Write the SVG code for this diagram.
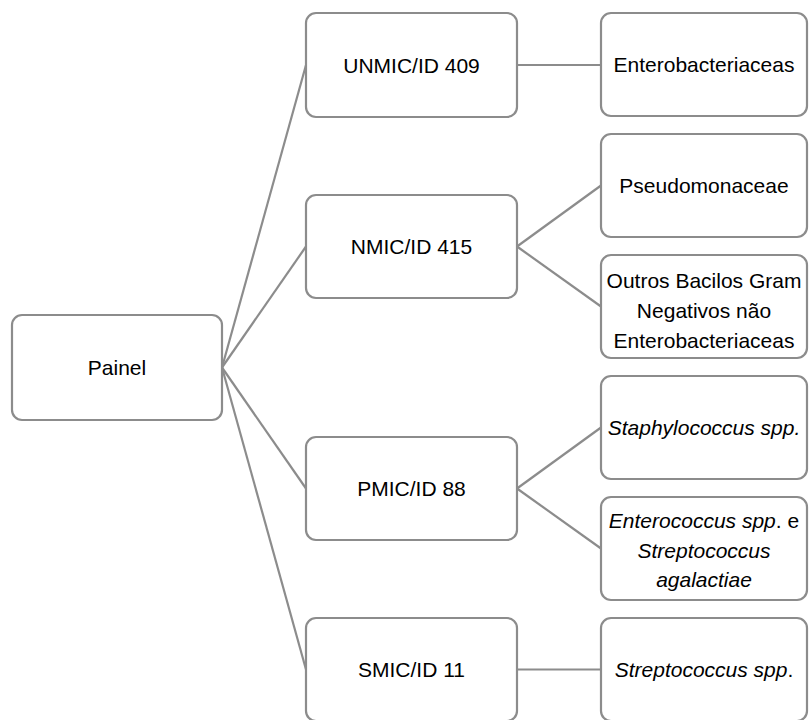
<svg xmlns="http://www.w3.org/2000/svg" width="809" height="720" viewBox="0 0 809 720">
<style>
.box{fill:#ffffff;stroke:#8c8c8c;stroke-width:2.2}
.ln{stroke:#8c8c8c;stroke-width:2.2;fill:none}
text{font-family:"Liberation Sans",Arial,sans-serif;font-size:21px;fill:#000000;text-anchor:middle}
.i{font-style:italic}
</style>
<rect width="809" height="720" fill="#ffffff"/>
<g id="connectors">
<line class="ln" x1="222" y1="367.5" x2="306" y2="65"/>
<line class="ln" x1="222" y1="367.5" x2="306" y2="246.5"/>
<line class="ln" x1="222" y1="367.5" x2="306" y2="488.5"/>
<line class="ln" x1="222" y1="367.5" x2="306" y2="669.5"/>
<line class="ln" x1="517" y1="65" x2="601" y2="65"/>
<line class="ln" x1="517" y1="246.5" x2="601" y2="185.5"/>
<line class="ln" x1="517" y1="246.5" x2="601" y2="306.5"/>
<line class="ln" x1="517" y1="488.5" x2="601" y2="427.5"/>
<line class="ln" x1="517" y1="488.5" x2="601" y2="548.5"/>
<line class="ln" x1="517" y1="669.5" x2="601" y2="669.5"/>
</g>
<g id="painel">
<rect class="box" x="12" y="315" width="210" height="105" rx="10"/>
<text x="117" y="375">Painel</text>
</g>
<g id="unmic">
<rect class="box" x="306" y="13" width="211" height="104" rx="10"/>
<text x="411.5" y="72.5">UNMIC/ID 409</text>
</g>
<g id="nmic">
<rect class="box" x="306" y="195" width="211" height="103" rx="10"/>
<text x="411.5" y="254">NMIC/ID 415</text>
</g>
<g id="pmic">
<rect class="box" x="306" y="437" width="211" height="103" rx="10"/>
<text x="411.5" y="496">PMIC/ID 88</text>
</g>
<g id="smic">
<rect class="box" x="306" y="618" width="211" height="103" rx="10"/>
<text x="411.5" y="677">SMIC/ID 11</text>
</g>
<g id="entero">
<rect class="box" x="601" y="13" width="206" height="103" rx="10"/>
<text x="704" y="72">Enterobacteriaceas</text>
</g>
<g id="pseudo">
<rect class="box" x="601" y="134" width="206" height="103" rx="10"/>
<text x="704" y="193">Pseudomonaceae</text>
</g>
<g id="outros">
<rect class="box" x="601" y="255" width="206" height="103" rx="10"/>
<text x="704" y="288">Outros Bacilos Gram</text>
<text x="704" y="318">Negativos não</text>
<text x="704" y="348">Enterobacteriaceas</text>
</g>
<g id="staph">
<rect class="box" x="601" y="376" width="206" height="103" rx="10"/>
<text x="704" y="435"><tspan class="i">Staphylococcus spp.</tspan></text>
</g>
<g id="enterococcus">
<rect class="box" x="601" y="497" width="206" height="103" rx="10"/>
<text x="704" y="528"><tspan class="i">Enterococcus spp</tspan>. e</text>
<text x="704" y="558" class="i">Streptococcus</text>
<text x="704" y="587" class="i">agalactiae</text>
</g>
<g id="strep">
<rect class="box" x="601" y="618" width="206" height="103" rx="10"/>
<text x="704" y="677"><tspan class="i">Streptococcus spp</tspan>.</text>
</g>
</svg>
